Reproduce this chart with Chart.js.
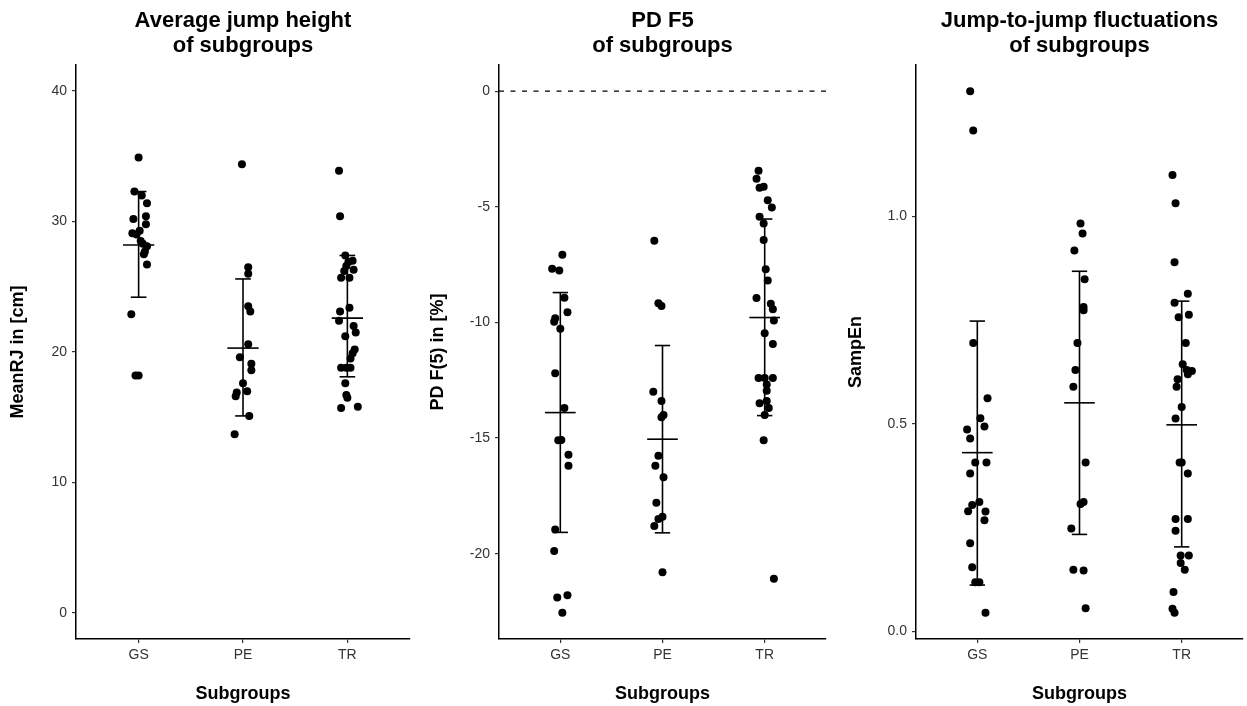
<!DOCTYPE html>
<html>
<head>
<meta charset="utf-8">
<script src="https://cdn.jsdelivr.net/npm/chart.js"></script>
<style>
  html, body { margin: 0; padding: 0; background: #fff; }
  .panel { position: absolute; top: 0; }
</style>
</head>
<body>
<div class="panel" style="left:0px"><canvas id="c1" width="414" height="706"></canvas></div>
<div class="panel" style="left:414px"><canvas id="c2" width="416" height="706"></canvas></div>
<div class="panel" style="left:830px"><canvas id="c3" width="417" height="706"></canvas></div>
<script>
const categories = ['GS', 'PE', 'TR'];

// Average jump height (MeanRJ, cm)
const jhGS = [34.9, 32.3, 32.0, 31.4, 30.4, 30.2, 29.8, 29.1, 29.0, 29.3, 28.5, 28.3, 28.1, 27.7, 27.5, 26.7, 22.9, 18.2, 18.2];
const jhGSJit = [0.00, -0.04, 0.03, 0.08, 0.07, -0.05, 0.07, -0.06, -0.02, 0.01, 0.02, 0.04, 0.08, 0.06, 0.05, 0.08, -0.07, -0.03, 0.00];
const jhPE = [34.4, 26.5, 26.0, 23.5, 23.1, 20.6, 19.6, 19.1, 18.6, 17.6, 17.0, 16.9, 16.6, 15.1, 13.7];
const jhPEJit = [-0.01, 0.05, 0.05, 0.05, 0.07, 0.05, -0.03, 0.08, 0.08, 0.00, 0.04, -0.06, -0.07, 0.06, -0.08];
const jhTR = [33.9, 30.4, 27.4, 27.0, 26.9, 26.6, 26.3, 26.2, 25.7, 25.7, 23.4, 23.1, 22.4, 22.0, 21.5, 21.2, 20.2, 19.9, 19.5, 18.8, 18.8, 18.8, 17.6, 16.7, 16.5, 15.7, 15.8];
const jhTRJit = [-0.08, -0.07, -0.02, 0.05, 0.01, -0.01, 0.06, -0.03, -0.06, 0.02, 0.02, -0.07, -0.08, 0.06, 0.08, -0.02, 0.07, 0.05, 0.03, -0.06, 0.03, -0.01, -0.02, -0.01, 0.00, -0.06, 0.10];
const jhMean = [28.2, 20.3, 22.6];
const jhLo = [24.2, 15.1, 18.1];
const jhHi = [32.3, 25.6, 27.4];
const jhTicks = [0, 10, 20, 30, 40];

// PD F5 (%)
const pdGS = [-7.07, -7.68, -7.76, -8.93, -9.56, -9.82, -9.97, -10.27, -12.2, -13.7, -15.1, -15.08, -15.72, -16.2, -18.96, -19.88, -21.9, -21.8, -22.56];
const pdGSJit = [0.02, -0.08, -0.01, 0.04, 0.07, -0.05, -0.06, 0.00, -0.05, 0.04, -0.02, 0.01, 0.08, 0.08, -0.05, -0.06, -0.03, 0.07, 0.02];
const pdPE = [-6.47, -9.17, -9.29, -13.0, -13.4, -14.0, -14.1, -15.77, -16.2, -16.7, -17.8, -18.4, -18.5, -18.8, -20.8];
const pdPEJit = [-0.08, -0.04, -0.01, -0.09, -0.01, 0.01, -0.01, -0.04, -0.07, 0.01, -0.06, 0.00, -0.04, -0.08, 0.00];
const pdTR = [-3.44, -3.79, -4.18, -4.13, -4.72, -5.03, -5.43, -5.72, -6.44, -7.7, -8.19, -8.94, -9.19, -9.43, -9.92, -10.47, -10.93, -12.4, -12.4, -12.4, -12.69, -12.96, -13.5, -13.4, -13.7, -14.0, -15.1, -21.08];
const pdTRJit = [-0.06, -0.08, -0.05, -0.01, 0.03, 0.07, -0.05, -0.01, -0.01, 0.01, 0.03, -0.08, 0.06, 0.08, 0.09, 0.00, 0.08, -0.06, 0.00, 0.08, 0.02, 0.02, -0.05, 0.02, 0.04, 0.00, -0.01, 0.09];
const pdMean = [-13.9, -15.05, -9.79];
const pdLo = [-19.08, -19.1, -14.03];
const pdHi = [-8.71, -11.0, -5.53];
const pdTicks = [-20, -15, -10, -5, 0];

// SampEn
const seGS = [1.302, 1.207, 0.695, 0.562, 0.514, 0.494, 0.487, 0.465, 0.407, 0.407, 0.381, 0.305, 0.312, 0.290, 0.289, 0.268, 0.213, 0.155, 0.119, 0.119, 0.045];
const seGSJit = [-0.07, -0.04, -0.04, 0.10, 0.03, 0.07, -0.10, -0.07, -0.02, 0.09, -0.07, -0.05, 0.02, -0.09, 0.08, 0.07, -0.07, -0.05, -0.02, 0.02, 0.08];
const sePE = [0.983, 0.959, 0.918, 0.849, 0.782, 0.774, 0.695, 0.630, 0.590, 0.407, 0.307, 0.312, 0.248, 0.149, 0.147, 0.056];
const sePEJit = [0.01, 0.03, -0.05, 0.05, 0.04, 0.04, -0.02, -0.04, -0.06, 0.06, 0.01, 0.04, -0.08, -0.06, 0.04, 0.06];
const seTR = [1.100, 1.032, 0.890, 0.814, 0.792, 0.757, 0.763, 0.695, 0.644, 0.630, 0.628, 0.620, 0.608, 0.590, 0.541, 0.513, 0.407, 0.407, 0.381, 0.271, 0.271, 0.243, 0.183, 0.183, 0.165, 0.149, 0.095, 0.055, 0.045];
const seTRJit = [-0.09, -0.06, -0.07, 0.06, -0.07, -0.03, 0.07, 0.04, 0.01, 0.05, 0.10, 0.06, -0.04, -0.05, 0.00, -0.06, -0.02, 0.00, 0.06, -0.06, 0.06, -0.06, -0.01, 0.07, -0.01, 0.03, -0.08, -0.09, -0.07];
const seMean = [0.431, 0.551, 0.498];
const seLo = [0.112, 0.234, 0.204];
const seHi = [0.748, 0.868, 0.796];
const seTicks = [0.0, 0.5, 1.0];

const FONT = 'Liberation Sans, Arial, sans-serif';
const CAP_HALF = 0.075;
const MEAN_HALF = 0.15;

// mean line + sd whiskers, and optional dashed reference line
const errorBars = {
    id: 'errorBars',
    beforeDatasetsDraw(chart, args, opts) {
        const ctx = chart.ctx;
        const x = chart.scales.x, y = chart.scales.y;
        const area = chart.chartArea;
        ctx.save();
        if (opts.hline !== undefined) {
            const py = y.getPixelForValue(opts.hline);
            ctx.setLineDash([5, 6.5]);
            ctx.lineWidth = 1.2;
            ctx.strokeStyle = '#000';
            ctx.beginPath();
            ctx.moveTo(area.left, py);
            ctx.lineTo(area.right, py);
            ctx.stroke();
            ctx.setLineDash([]);
        }
        ctx.lineWidth = 1.6;
        ctx.strokeStyle = '#000';
        const seg = (x0, y0, x1, y1) => {
            ctx.beginPath();
            ctx.moveTo(x.getPixelForValue(x0), y.getPixelForValue(y0));
            ctx.lineTo(x.getPixelForValue(x1), y.getPixelForValue(y1));
            ctx.stroke();
        };
        opts.mean.forEach((m, i) => {
            const c = i + 1;
            seg(c, opts.lo[i], c, opts.hi[i]);
            seg(c - CAP_HALF, opts.lo[i], c + CAP_HALF, opts.lo[i]);
            seg(c - CAP_HALF, opts.hi[i], c + CAP_HALF, opts.hi[i]);
            seg(c - MEAN_HALF, m, c + MEAN_HALF, m);
        });
        ctx.restore();
    }
};

function makePanel(id, o) {
    const jit = [o.gsJit, o.peJit, o.trJit];
    const datasets = [o.gs, o.pe, o.tr].map((vals, g) => ({
        data: vals.map((v, i) => ({ x: g + 1 + jit[g][i], y: v })),
        backgroundColor: '#000',
        borderColor: '#000',
        borderWidth: 0,
        pointRadius: 4,
        pointHoverRadius: 4
    }));

    const axisCommon = {
        border: { display: true, color: '#000', width: 1.5 },
        grid: { display: true, drawOnChartArea: false, drawTicks: true, tickLength: 4, color: '#333', lineWidth: 1.2 }
    };

    new Chart(document.getElementById(id), {
        type: 'scatter',
        data: { datasets },
        plugins: [errorBars],
        options: {
            responsive: false,
            animation: false,
            events: [],
            layout: { padding: { left: 0, right: o.padRight, top: 0, bottom: 0 } },
            plugins: {
                legend: { display: false },
                tooltip: { enabled: false },
                title: {
                    display: true,
                    fullSize: false,
                    text: o.title,
                    color: '#000',
                    font: { family: FONT, size: 22, weight: 'bold', lineHeight: 1.15 },
                    padding: { top: 8, bottom: 6.4 }
                },
                errorBars: { mean: o.mean, lo: o.lo, hi: o.hi, hline: o.hline }
            },
            scales: {
                x: {
                    ...axisCommon,
                    type: 'linear',
                    min: 0.4,
                    max: 3.6,
                    afterBuildTicks: s => { s.ticks = categories.map((c, i) => ({ value: i + 1 })); },
                    afterFit: s => { s.height = 67; },
                    ticks: {
                        color: '#333',
                        padding: 4,
                        font: { family: FONT, size: 14 },
                        callback: v => categories[Math.round(v) - 1]
                    },
                    title: {
                        display: true,
                        text: 'Subgroups',
                        color: '#000',
                        font: { family: FONT, size: 18, weight: 'bold' },
                        padding: { top: 15, bottom: 1 }
                    }
                },
                y: {
                    ...axisCommon,
                    type: 'linear',
                    min: o.yMin,
                    max: o.yMax,
                    afterBuildTicks: s => { s.ticks = o.yTicks.map(v => ({ value: v })); },
                    afterFit: s => { s.width = o.yWidth; },
                    ticks: {
                        color: '#333',
                        padding: 5,
                        font: { family: FONT, size: 14 },
                        callback: o.yFmt
                    },
                    title: {
                        display: true,
                        text: o.yTitle,
                        color: '#000',
                        font: { family: FONT, size: 18, weight: 'bold' },
                        padding: { top: o.yTitlePad, bottom: 0 }
                    }
                }
            }
        }
    });
}

window.onload = function () {
    makePanel('c1', {
        title: ['Average jump height', 'of subgroups'],
        yTitle: 'MeanRJ in [cm]',
        gs: jhGS, gsJit: jhGSJit, pe: jhPE, peJit: jhPEJit, tr: jhTR, trJit: jhTRJit,
        mean: jhMean, lo: jhLo, hi: jhHi,
        yMin: -2, yMax: 42, yTicks: jhTicks, yFmt: v => String(v),
        yWidth: 76, yTitlePad: 7, padRight: 2
    });
    makePanel('c2', {
        title: ['PD F5', 'of subgroups'],
        yTitle: 'PD F(5) in [%]',
        gs: pdGS, gsJit: pdGSJit, pe: pdPE, peJit: pdPEJit, tr: pdTR, trJit: pdTRJit,
        mean: pdMean, lo: pdLo, hi: pdHi, hline: 0,
        yMin: -23.69, yMax: 1.13, yTicks: pdTicks, yFmt: v => String(v),
        yWidth: 85, yTitlePad: 13, padRight: 1
    });
    makePanel('c3', {
        title: ['Jump-to-jump fluctuations', 'of subgroups'],
        yTitle: 'SampEn',
        gs: seGS, gsJit: seGSJit, pe: sePE, peJit: sePEJit, tr: seTR, trJit: seTRJit,
        mean: seMean, lo: seLo, hi: seHi,
        yMin: -0.018, yMax: 1.365, yTicks: seTicks, yFmt: v => v.toFixed(1),
        yWidth: 86, yTitlePad: 15, padRight: 1
    });
};
</script>
</body>
</html>
